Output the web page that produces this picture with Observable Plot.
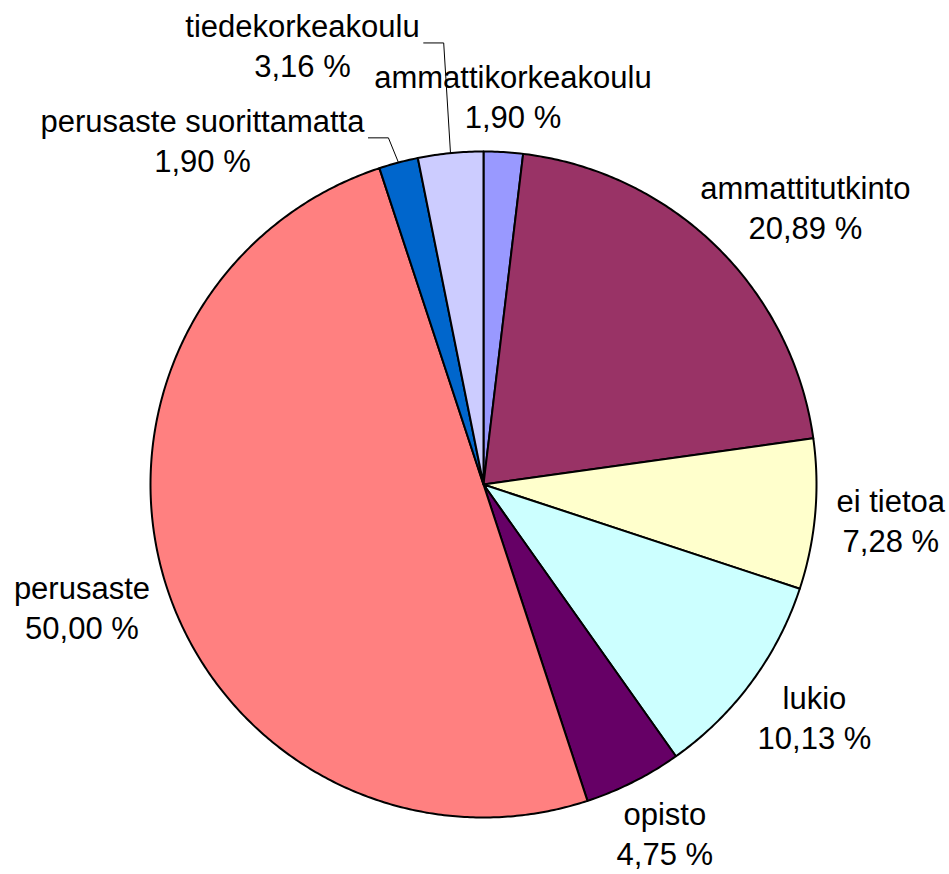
<!DOCTYPE html>
<html><head><meta charset="utf-8">
<script src="https://cdn.jsdelivr.net/npm/d3@7"></script>
<script src="https://cdn.jsdelivr.net/npm/@observablehq/plot@0.6"></script>
<style>body{margin:0;background:#fff;}</style>
</head><body><div id="chart"></div>
<script>
const categories = ["ammattikorkeakoulu","ammattitutkinto","ei tietoa","lukio","opisto","perusaste","perusaste suorittamatta","tiedekorkeakoulu"];
const shares = [1.90, 20.89, 7.28, 10.13, 4.75, 50.00, 1.90, 3.16];
const valueLabels = ["1,90 %","20,89 %","7,28 %","10,13 %","4,75 %","50,00 %","1,90 %","3,16 %"];
const colors = ["#9999FF","#993366","#FFFFCC","#CCFFFF","#660066","#FF8080","#0066CC","#CCCCFF"];
// labels dragged away from their slices (centre, in unit-circle coordinates), drawn with leader lines
const movedLabels = {"tiedekorkeakoulu": [-0.5435, 1.323], "perusaste suorittamatta": [-0.844, 1.038]};

const W = 949, H = 874, cx = 483, cy = 484, r = 333;
const fontSize = 31, lineH = 40;
const font = "Liberation Sans, Arial, Helvetica, sans-serif";

const ctx = document.createElement("canvas").getContext("2d");
ctx.font = `${fontSize}px ${font}`;
const tw = s => ctx.measureText(s).width;

const total = d3.sum(shares);
const slicePts = [], labels = [], leaders = [];
let acc = 0;
categories.forEach((name, i) => {
  const a0 = acc / total * 2 * Math.PI;
  acc += shares[i];
  const a1 = acc / total * 2 * Math.PI;
  slicePts.push({name, x: 0, y: 0});
  const n = Math.max(2, Math.ceil((a1 - a0) / (Math.PI / 360)));
  for (let k = 0; k <= n; k++) {
    const a = a0 + (a1 - a0) * k / n;
    slicePts.push({name, x: Math.sin(a), y: Math.cos(a)});
  }
  const m = (a0 + a1) / 2;
  const w = Math.max(tw(name), tw(valueLabels[i]));
  const text = name + "\n" + valueLabels[i];
  if (movedLabels[name]) {
    const [ux, uy] = movedLabels[name];
    labels.push({text, x: ux, y: uy});
    const rightPx = cx + ux * r + w / 2 + 4;
    const yPx = cy - uy * r - 1;
    leaders.push({name, x: (rightPx - cx) / r, y: (cy - yPx) / r});
    leaders.push({name, x: (rightPx + 20 - cx) / r, y: (cy - yPx) / r});
    leaders.push({name, x: Math.sin(m), y: Math.cos(m)});
  } else {
    const R = 1.065 * r, h = 70;
    const px = cx + R * Math.sin(m) + Math.sin(m) * w / 2;
    const py = cy - R * Math.cos(m) - Math.cos(m) * h / 2;
    labels.push({text, x: (px - cx) / r, y: (cy - py) / r});
  }
});

const chart = Plot.plot({
  width: W, height: H,
  margin: 0,
  style: {fontFamily: font, background: "#fff"},
  x: {domain: [-1, 1], range: [cx - r, cx + r], axis: null},
  y: {domain: [-1, 1], range: [cy + r, cy - r], axis: null},
  color: {domain: categories, range: colors},
  marks: [
    Plot.line(slicePts, {x: "x", y: "y", z: "name", fill: "name", stroke: "#000", strokeWidth: 2, curve: "linear-closed", strokeLinejoin: "round"}),
    Plot.line(leaders, {x: "x", y: "y", z: "name", stroke: "#000", strokeWidth: 1, strokeLinejoin: "miter"}),
    Plot.text(labels, {x: "x", y: "y", text: "text", fontSize, lineHeight: lineH / fontSize, textAnchor: "middle", lineAnchor: "middle", fill: "#000", fontFamily: font})
  ]
});
document.getElementById("chart").appendChild(chart);
</script>
</body></html>
